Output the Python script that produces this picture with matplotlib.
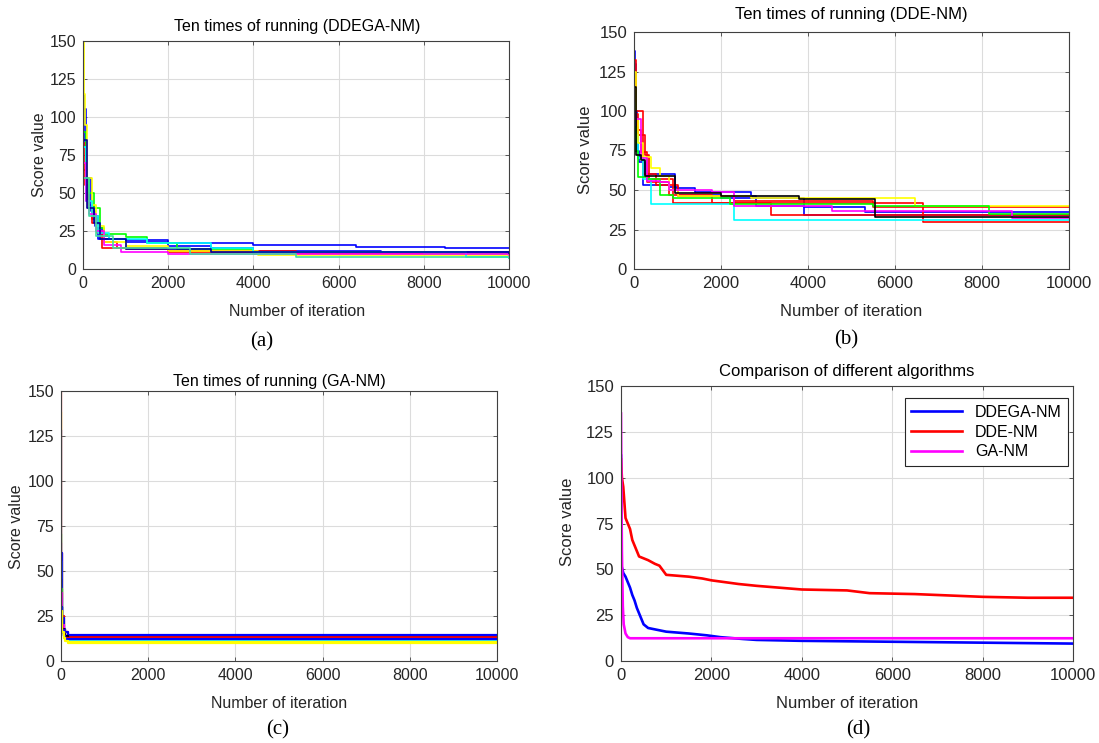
import matplotlib
matplotlib.use("Agg")
import matplotlib.pyplot as plt

plt.rcParams["font.family"] = ["Liberation Sans", "DejaVu Sans"]

W, H = 1099, 743

# ---- data: (iteration, best score) break points of each run ----
ddega_runs = [
    ("blue",    [(0, 115), (30, 80), (80, 50), (150, 42), (250, 35), (350, 27), (450, 22), (600, 20), (1000, 19), (2000, 17), (4000, 15.5), (6400, 14.5), (8500, 13.8), (10000, 13.8)]),
    ("blue",    [(0, 105), (60, 60), (180, 38), (280, 28), (350, 20), (1000, 18), (2000, 15), (3000, 13.5), (4000, 12), (7000, 11), (10000, 11)]),
    ("red",     [(0, 83), (40, 55), (120, 40), (220, 30), (320, 24), (450, 14), (1000, 13), (2000, 11), (4000, 10), (10000, 9.5)]),
    ("red",     [(0, 65), (100, 45), (200, 33), (350, 25), (500, 18), (800, 14), (2000, 12), (5000, 10), (10000, 9)]),
    ("#00ff00", [(0, 90), (60, 60), (150, 50), (250, 40), (400, 27), (500, 23), (1000, 21), (1500, 17), (2200, 13), (4000, 11), (8000, 10), (10000, 10)]),
    ("yellow",  [(0, 150), (20, 115), (50, 95), (100, 60), (200, 42), (300, 28), (500, 18), (1000, 15), (2000, 12), (4100, 9), (10000, 8.5)]),
    ("cyan",    [(0, 80), (80, 45), (200, 35), (350, 24), (600, 20), (1500, 17), (3000, 14), (4000, 11), (9000, 8), (10000, 7)]),
    ("magenta", [(0, 70), (60, 45), (150, 36), (300, 25), (500, 16), (900, 11), (2000, 10), (10000, 9.5)]),
    ("#0000a0", [(0, 85), (100, 40), (250, 30), (400, 20), (1000, 13), (3000, 11.5), (10000, 10.5)]),
    ("#40e0a0", [(0, 60), (150, 35), (300, 22), (700, 14), (2500, 10), (5000, 8), (10000, 7.5)]),
]

dde_runs = [
    ("blue",    [(0, 138), (20, 100), (60, 75), (120, 68), (250, 60), (950, 51), (1400, 49), (2700, 46), (2800, 40), (3900, 39), (5300, 36), (10000, 36)]),
    ("blue",    [(0, 130), (50, 90), (100, 70), (200, 53), (800, 52), (1000, 47), (2000, 45), (3900, 34), (10000, 34)]),
    ("red",     [(0, 132), (40, 98), (100, 85), (250, 72), (350, 57), (900, 42), (3150, 34), (10000, 34)]),
    ("red",     [(0, 95), (60, 88), (150, 74), (300, 55), (800, 47), (1800, 42), (5500, 39), (10000, 39)]),
    ("red",     [(0, 120), (50, 100), (200, 60), (500, 53), (1000, 46), (2300, 43), (5500, 42), (6650, 30), (10000, 30)]),
    ("cyan",    [(0, 105), (30, 85), (100, 70), (200, 57), (380, 41), (2300, 31), (10000, 31)]),
    ("yellow",  [(0, 125), (40, 95), (100, 80), (200, 71), (400, 64), (600, 59), (800, 50), (1000, 46), (2700, 45), (6450, 40), (10000, 40)]),
    ("#00ff00", [(0, 90), (40, 75), (100, 58), (300, 57), (600, 47), (900, 45), (2200, 41), (5500, 40), (8150, 35), (10000, 35)]),
    ("magenta", [(0, 100), (50, 95), (150, 70), (300, 56), (600, 55), (800, 50), (1800, 49), (2300, 40), (4550, 37), (8700, 32), (10000, 32)]),
    ("black",   [(0, 115), (50, 72), (150, 69), (250, 59), (950, 48), (2000, 46), (3800, 44), (5550, 33), (10000, 33)]),
]

ga_runs = [
    ("red",     [(0, 150), (10, 60), (30, 25), (60, 18), (100, 16), (150, 13.5), (10000, 13.5)]),
    ("yellow",  [(0, 138), (10, 55), (30, 22), (60, 15), (100, 12), (150, 10), (10000, 10)]),
    ("blue",    [(0, 128), (10, 60), (30, 24), (60, 18), (100, 16), (150, 14.5), (10000, 14.5)]),
    ("#00ff00", [(0, 70), (10, 40), (30, 20), (60, 15), (100, 13), (150, 11.5), (10000, 11.5)]),
    ("cyan",    [(0, 55), (10, 35), (30, 18), (60, 14), (100, 12), (150, 11), (10000, 11)]),
    ("magenta", [(0, 65), (10, 38), (30, 20), (60, 15), (100, 13.5), (150, 12.5), (10000, 12.5)]),
    ("black",   [(0, 45), (10, 30), (30, 18), (60, 15), (100, 14), (150, 13), (10000, 13)]),
    ("red",     [(0, 30), (10, 25), (30, 17), (60, 14), (100, 13), (150, 12.8), (10000, 12.8)]),
    ("blue",    [(0, 50), (10, 30), (30, 17), (60, 14), (100, 12.5), (150, 12), (10000, 12)]),
    ("yellow",  [(0, 40), (10, 28), (30, 16), (60, 13), (100, 11), (150, 10.5), (10000, 10.5)]),
]

# averaged curves for panel (d)
avg_names = ["DDEGA-NM", "DDE-NM", "GA-NM"]
avg_colors = ["blue", "red", "magenta"]
avg_iter = [
    [0, 5, 10, 50, 100, 150, 200, 250, 300, 350, 400, 450, 500, 600, 800, 1000, 1500, 1900, 2200, 2700, 3000, 4000, 6000, 8000, 10000],
    [0, 20, 50, 100, 150, 200, 250, 300, 400, 600, 750, 850, 1000, 1500, 1800, 2000, 2300, 2600, 3000, 3500, 4000, 5000, 5500, 6500, 7000, 8000, 9000, 10000],
    [0, 10, 20, 40, 60, 100, 150, 200, 10000],
]
avg_score = [
    [112, 75, 52, 48, 46, 43, 40, 36, 33, 29, 26, 23, 20, 18, 17, 16, 15, 14, 13, 12, 11.5, 11, 10.5, 10, 9.5],
    [110, 100, 95, 78, 75, 72, 66, 63, 57, 55, 53, 52, 47, 46, 45, 44, 43, 42, 41, 40, 39, 38.5, 37, 36.5, 36, 35, 34.5, 34.5],
    [135, 90, 60, 30, 20, 15, 13, 12.4, 12.4],
]

# axes boxes in pixels: left, top, right, bottom
boxes = {
    "a": (83, 41, 509, 269),
    "b": (634, 32, 1069, 269),
    "c": (61, 391, 497, 661),
    "d": (621, 386, 1073, 661),
}
titles = {
    "a": ("Ten times of running (DDEGA-NM)", 297, 27),
    "b": ("Ten times of running (DDE-NM)", 851, 14),
    "c": ("Ten times of running (GA-NM)", 279, 381),
    "d": ("Comparison of different algorithms", 847, 372),
}
xlab = {"a": (297, 312), "b": (851, 311), "c": (279, 703), "d": (847, 703)}
ylab = {"a": (40, 155), "b": (585, 150), "c": (17, 527), "d": (568, 522)}
letters = {"a": (262, 342), "b": (846, 340), "c": (278, 730), "d": (858, 730)}

TXT = "#262626"
fig = plt.figure(figsize=(W / 100, H / 100), dpi=100)


def fx(x):
    return x / W


def fy(y):
    return 1 - y / H


def make_axes(key, fs):
    l, t, r, b = boxes[key]
    ax = fig.add_axes([fx(l), fy(b), (r - l) / W, (b - t) / H])
    ax.set_xlim(0, 10000)
    ax.set_ylim(0, 150)
    ax.set_xticks([0, 2000, 4000, 6000, 8000, 10000])
    ax.set_yticks([0, 25, 50, 75, 100, 125, 150])
    ax.grid(True, color="#dcdcdc", linewidth=0.8)
    ax.set_axisbelow(True)
    ax.tick_params(direction="in", length=3, width=0.6, colors="#404040",
                   labelsize=fs, labelcolor=TXT, top=True, right=True, pad=5)
    for s in ax.spines.values():
        s.set_color("#404040")
        s.set_linewidth(0.8)
    title, tx, ty = titles[key]
    fig.text(fx(tx), fy(ty), title, ha="center", va="center", fontsize=fs, color="black")
    fig.text(fx(xlab[key][0]), fy(xlab[key][1]), "Number of iteration",
             ha="center", va="center", fontsize=fs, color=TXT)
    fig.text(fx(ylab[key][0]), fy(ylab[key][1]), "Score value", rotation=90,
             ha="center", va="center", fontsize=fs, color=TXT)
    fig.text(fx(letters[key][0]), fy(letters[key][1]), "(" + key + ")",
             ha="center", va="center", fontsize=15, family="Liberation Serif", color="black")
    return ax


def draw_runs(ax, runs, lw):
    for color, pts in runs:
        xs = [p[0] for p in pts]
        ys = [p[1] for p in pts]
        ax.plot(xs, ys, color=color, linewidth=lw, drawstyle="steps-post")


ax_a = make_axes("a", 11.5)
draw_runs(ax_a, ddega_runs, 1.2)

ax_b = make_axes("b", 12)
draw_runs(ax_b, dde_runs, 1.2)

ax_c = make_axes("c", 11.5)
draw_runs(ax_c, ga_runs, 1.6)

ax_d = make_axes("d", 12)
for name, color, xs, ys in zip(avg_names, avg_colors, avg_iter, avg_score):
    ax_d.plot(xs, ys, color=color, linewidth=1.9, label=name)
leg = ax_d.legend(loc="upper right", bbox_to_anchor=(0.99, 0.955), borderaxespad=0,
                  fancybox=False, framealpha=1, edgecolor="#262626", fontsize=11.5,
                  handlelength=3.2, labelspacing=0.3, borderpad=0.4)
leg.get_frame().set_linewidth(0.8)

fig.savefig("out.png", dpi=100)
